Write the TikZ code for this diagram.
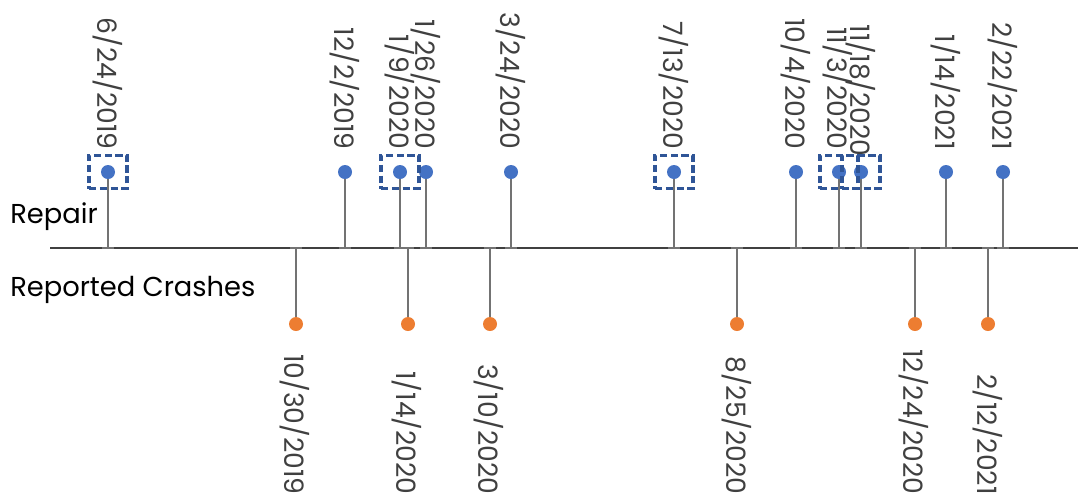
\documentclass[tikz,border=0pt]{standalone}
\usepackage{fontspec}
\setmainfont{Poppins}
\definecolor{cblue}{HTML}{4472C4}
\definecolor{corange}{HTML}{ED7D31}
\definecolor{cbox}{HTML}{2F5597}
\definecolor{cstem}{HTML}{737373}
\definecolor{caxis}{HTML}{404040}
\definecolor{ctext}{HTML}{404040}
\begin{document}
\begin{tikzpicture}[x=0.75pt,y=-0.75pt,
  bdot/.style={circle, fill=cblue, inner sep=0pt, minimum size=10.5pt},
  odot/.style={circle, fill=corange, inner sep=0pt, minimum size=10.5pt},
  dbox/.style={draw=cbox, line width=2.5pt, dash pattern=on 5.5pt off 2.6pt, minimum width=28.5pt, minimum height=25pt, inner sep=0pt},
  datelbl/.style={rotate=-90, anchor=mid east, font=\fontsize{20}{24}\selectfont, text=ctext, inner sep=0pt},
  serieslbl/.style={anchor=base west, font=\fontsize{20.5}{24}\selectfont, text=black, inner sep=0pt},
  stem/.style={draw=cstem, line width=1.5pt},
  capseg/.style={draw=cstem, line width=2.2pt},
  axisline/.style={draw=caxis, line width=1.5pt}]
\useasboundingbox (0,0) rectangle (1078,497);
% axis
\coordinate (axL) at (50,248);
\coordinate (axR) at (1078,248);
\draw[axisline] (axL) -- (axR);
% series labels
\node[serieslbl] (repair) at (10,223) {Repair};
\node[serieslbl] (crash) at (10,296) {Reported Crashes};
% blue (repair) events
\node[bdot] (b1) at (108,172) {};
\node[bdot] (b2) at (345,172) {};
\node[bdot] (b3) at (400,172) {};
\node[bdot] (b4) at (426,172) {};
\node[bdot] (b5) at (511,172) {};
\node[bdot] (b6) at (674,172) {};
\node[bdot] (b7) at (796,172) {};
\node[bdot] (b8) at (839,172) {};
\node[bdot] (b9) at (861,172) {};
\node[bdot] (b10) at (946,172) {};
\node[bdot] (b11) at (1003,172) {};
\foreach \i/\x in {1/108,2/345,3/400,4/426,5/511,6/674,7/796,8/839,9/861,10/946,11/1003}{
  \coordinate (ab\i) at (\x,248);
  \draw[stem] (b\i.south) -- (ab\i);
  \draw[capseg] ([xshift=-4.5pt]ab\i) -- ([xshift=4.5pt]ab\i);
}
% orange (crash) events
\node[odot] (o1) at (296,324) {};
\node[odot] (o2) at (408,324) {};
\node[odot] (o3) at (490,324) {};
\node[odot] (o4) at (737,324) {};
\node[odot] (o5) at (915,324) {};
\node[odot] (o6) at (988,324) {};
\foreach \i/\x in {1/296,2/408,3/490,4/737,5/915,6/988}{
  \coordinate (ao\i) at (\x,248);
  \draw[stem] (ao\i) -- (o\i.north);
  \draw[capseg] ([xshift=-4.5pt]ao\i) -- ([xshift=4.5pt]ao\i);
}
% blue labels
\node[datelbl] (lb1) at (101,150) {6/24/2019};
\node[datelbl] (lb2) at (338,150) {12/2/2019};
\node[datelbl] (lb3) at (393,150) {1/9/2020};
\node[datelbl] (lb4) at (419,150) {1/26/2020};
\node[datelbl] (lb5) at (504,150) {3/24/2020};
\node[datelbl] (lb6) at (667,150) {7/13/2020};
\node[datelbl] (lb7) at (789,150) {10/4/2020};
\node[datelbl] (lb8) at (831,150) {11/3/2020};
\node[datelbl] (lb9) at (854,157) {11/18/2020};
\node[datelbl] (lb10) at (939,150) {1/14/2021};
\node[datelbl] (lb11) at (996,150) {2/22/2021};
% orange labels
\node[datelbl] (lo1) at (288,495) {10/30/2019};
\node[datelbl] (lo2) at (400,495) {1/14/2020};
\node[datelbl] (lo3) at (482,495) {3/10/2020};
\node[datelbl] (lo4) at (730,495) {8/25/2020};
\node[datelbl] (lo5) at (907,495) {12/24/2020};
\node[datelbl] (lo6) at (981,495) {2/12/2021};
% dashed highlight boxes
\node[dbox] (h1) at (b1) {};
\node[dbox] (h3) at (b3) {};
\node[dbox] (h6) at (b6) {};
\node[dbox] (h8) at (b8) {};
\node[dbox] (h9) at (b9) {};
\end{tikzpicture}
\end{document}
